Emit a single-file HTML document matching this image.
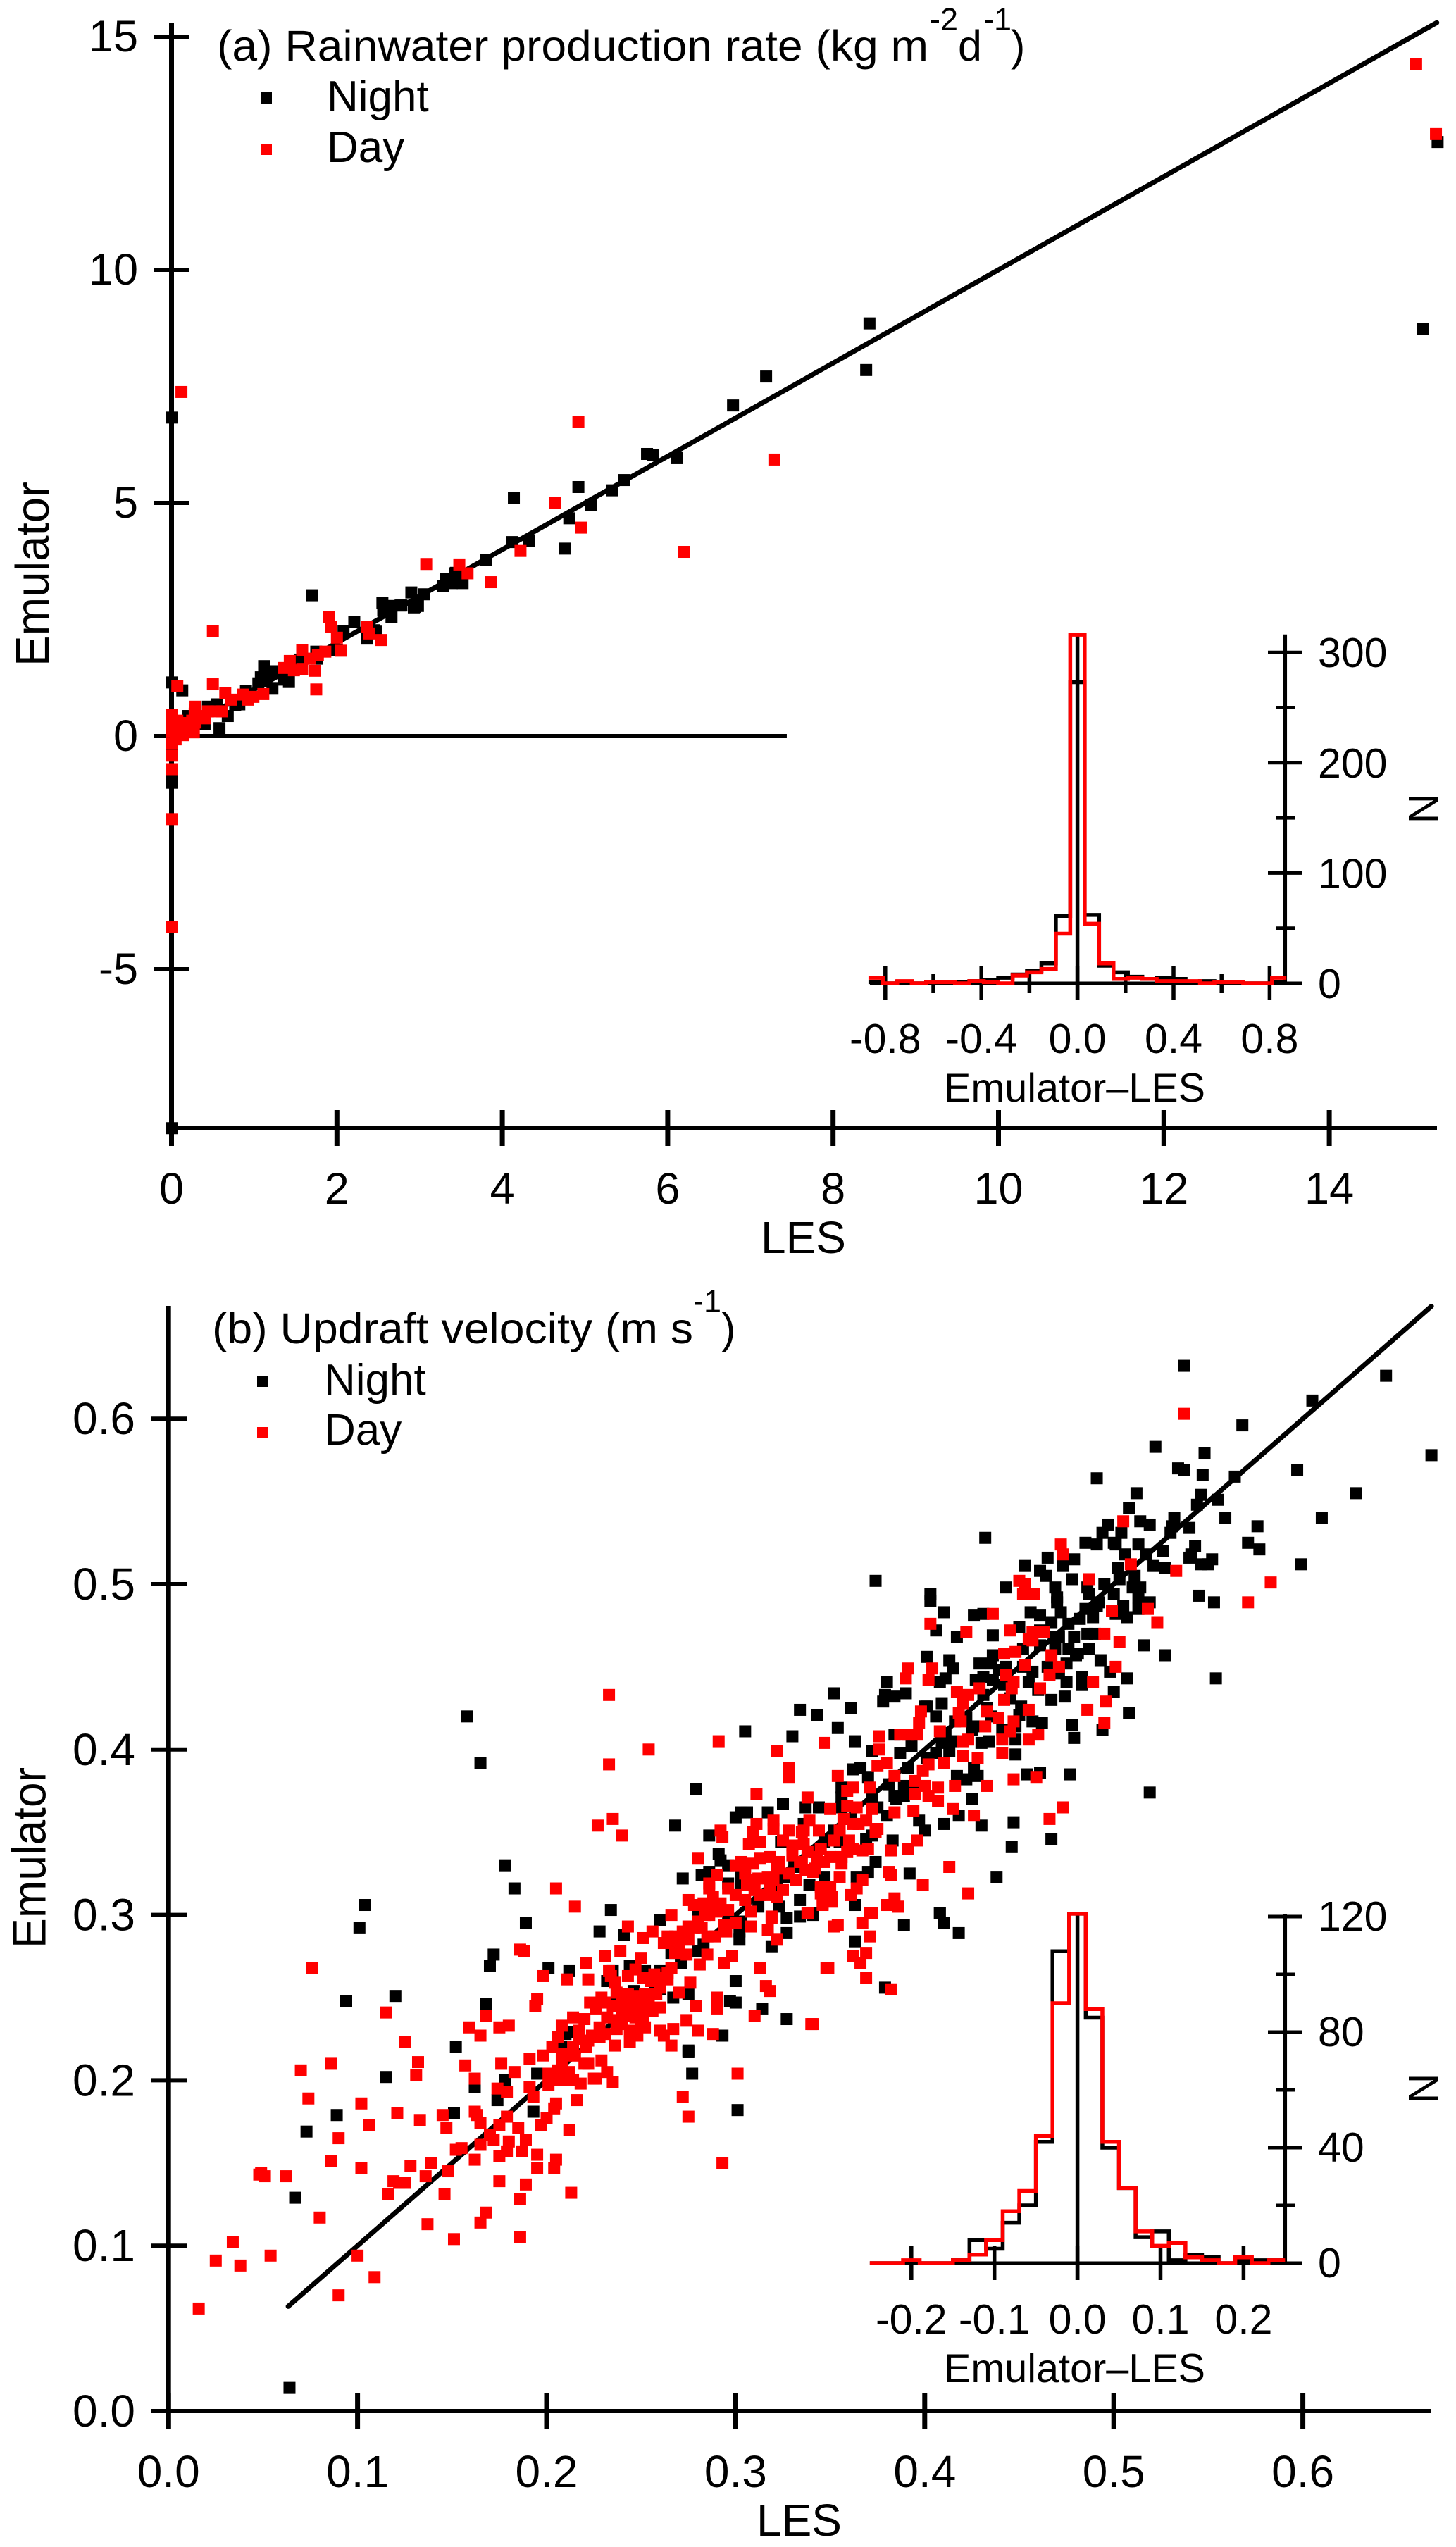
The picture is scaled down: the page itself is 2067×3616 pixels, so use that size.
<!DOCTYPE html>
<html lang="en">
<head>
<meta charset="utf-8">
<title>Emulator vs LES</title>
<style>
html,body{margin:0;padding:0;background:#fff;}
svg{display:block;font-family:"Liberation Sans",sans-serif;fill:#000;}
</style>
</head>
<body>
<svg id="fig" xmlns="http://www.w3.org/2000/svg" width="2067" height="3616" viewBox="0 0 2067 3616">
<rect x="0" y="0" width="2067" height="3616" fill="#fff"/>

<g font-size="61">
<text x="308" y="86" textLength="1010" lengthAdjust="spacingAndGlyphs">(a) Rainwater production rate (kg m</text>
<text x="1320" y="43" font-size="45">-2</text>
<text x="1360" y="86">d</text>
<text x="1396" y="43" font-size="45">-1</text>
<text x="1435" y="86">)</text>
</g>
<g font-size="62">
<rect x="370" y="131" width="16" height="16" fill="#000"/>
<text x="464" y="158">Night</text>
<rect x="370" y="204" width="16" height="16" fill="#f00"/>
<text x="464" y="230">Day</text>
</g>
<text font-size="67" transform="translate(69,946) rotate(-90)" textLength="262" lengthAdjust="spacingAndGlyphs">Emulator</text>
<text font-size="64" x="1080" y="1779">LES</text>
<text font-size="57.5" x="1340" y="1564" textLength="371" lengthAdjust="spacingAndGlyphs">Emulator–LES</text>
<text font-size="59" text-anchor="middle" transform="translate(2041,1148) rotate(-90)">N</text>

<g font-size="61">
<text x="301" y="1907" textLength="683" lengthAdjust="spacingAndGlyphs">(b) Updraft velocity (m s</text>
<text x="984" y="1863" font-size="45">-1</text>
<text x="1024" y="1907">)</text>
</g>
<g font-size="62">
<rect x="365" y="1953" width="16" height="16" fill="#000"/>
<text x="460" y="1980">Night</text>
<rect x="365" y="2026" width="16" height="16" fill="#f00"/>
<text x="460" y="2051">Day</text>
</g>
<text font-size="67" transform="translate(64.5,2766) rotate(-90)" textLength="257" lengthAdjust="spacingAndGlyphs">Emulator</text>
<text font-size="64" x="1074" y="3600">LES</text>
<text font-size="57.5" x="1340" y="3382" textLength="371" lengthAdjust="spacingAndGlyphs">Emulator–LES</text>
<text font-size="59" text-anchor="middle" transform="translate(2041,2965) rotate(-90)">N</text>
</svg>
<script>
/* ---------- Panel (a) data ---------- */
const aNightX=[0,1.70,4.14,4.92,5.07,4.81,4.76,5.33,5.47,5.75,
5.82,6.11,6.79,4.12,4.32,3.80,3.43,3.52,3.39,3.32,
3.28,3.05,2.90,2.93,2.98,2.77,2.64,2.55,2.56,2.66,
2.21,2.45,2.08,7.19,8.44,8.40,15.13,15.31,2.36,2.47,
2.63,2.78,2.94,3.44,3.49,1.12,1.22,1.08,1.22,1.05,
1.13,1.36,1.42,1.55,1.75,1.76,2.0,.90,.82,.77,
.68,.58,.40,.55,.44,.13,0,.20,0,0,
0,0,.1];
const aNightY=[6.83,3.02,5.1,5.34,4.96,4.67,4.02,5.27,5.49,6.05,
6.02,5.96,7.09,4.16,4.19,3.77,3.49,3.28,3.28,3.37,
3.21,3.04,3.08,2.76,2.79,2.80,2.79,2.86,2.69,2.56,
2.45,2.27,2.25,7.71,8.85,7.85,8.73,12.74,2.09,2.24,
2.77,2.80,2.77,3.50,3.30,1.50,1.39,1.26,1.03,1.13,
1.18,1.21,1.16,1.64,1.81,1.66,1.84,.96,.68,.66,
.43,.17,.25,.68,.63,.98,1.15,.43,-1.0,-.82,
-8.41,-.3,.1];
const aDayX=[.12,4.92,4.64,4.95,6.20,4.22,3.86,3.58,3.48,3.08,
1.90,1.93,2.36,2.39,.50,7.29,15.05,15.29,.50,.07,
2.0,2.05,2.53,1.58,1.43,1.36,1.48,1.58,1.67,1.77,
1.86,1.73,1.75,.65,.72,.865,.92,.99,1.11,.29,
.44,.54,.61,.35,.28,.25,.21,.14,.07,0,
0,.11,.27,.40,0,0,0,0,0,0,
.05,.05,.14,.23,.29,.29,0];
const aDayY=[7.38,6.74,5.0,4.47,3.95,3.97,3.30,3.49,3.68,3.69,
2.56,2.34,2.34,2.20,2.25,5.93,14.41,12.91,1.11,1.07,
2.11,1.83,2.06,1.84,1.61,1.46,1.41,1.44,1.66,1.74,
1.81,1.40,1.00,.92,.78,.89,.78,.84,.90,.63,
.53,.53,.53,.43,.48,.33,.23,.28,.33,.45,
.23,.08,.08,.38,-.71,-1.78,-4.09,-.42,-.16,.11,
.29,-.07,.02,.11,.55,.29,.37];
const aFitLine=[0,15.3];
const aZeroLineX=[0,7.44];
const aXTicks=[0,2,4,6,8,10,12,14];
const aXTickLabels=["0","2","4","6","8","10","12","14"];
const aYTicks=[-5,0,5,10,15];
const aYTickLabels=["-5","0","5","10","15"];
const aHistCenters=[-.84,-.78,-.72,-.66,-.6,-.54,-.48,-.42,-.36,-.3,-.24,-.18,-.12,-.06,0,.06,.12,.18,.24,.3,.36,.42,.48,.54,.6,.66,.72,.78,.84];
const aHistNight=[1,0,1,0,1,1,1,2,3,5,8,11,18,61,273,62,16,10,6,4,5,4,0,2,1,0,0,0,1];
const aHistDay=[5,0,2,0,1,1,0,2,1,0,7,10,13,45,316,54,18,4,5,4,2,2,2,0,1,1,0,0,5];
const aInsetXMajor=[-.8,-.4,0,.4,.8];
const aInsetXMajorLabels=["-0.8","-0.4","0.0","0.4","0.8"];
const aInsetXMinor=[-.6,-.2,.2,.6];
const aInsetYMajor=[0,100,200,300];
const aInsetYMajorLabels=["0","100","200","300"];
const aInsetYMinor=[50,150,250];

/* ---------- Panel (b) data ---------- */
const bNightX=[.537,.644,.605,.568,.522,.548,.668,.534,.537,.547,
.597,.491,.564,.512,.628,.546,.544,.555,.508,.559,
.532,.610,.576,.514,.519,.497,.531,.540,.530,.504,
.494,.432,.485,.491,.500,.501,.571,.577,.513,.506,
.526,.517,.543,.541,.540,.552,.546,.550,.599,.465,
.479,.473,.453,.461,.464,.527,.478,.503,.511,.443,
.469,.470,.486,.495,.487,.500,.514,.513,.519,.545,
.553,.374,.403,.403,.410,.426,.431,.456,.461,.472,
.485,.491,.505,.513,.507,.489,.467,.476,.450,.406,
.417,.436,.469,.479,.486,.469,.476,.480,.487,.475,
.516,.527,.436,.401,.413,.415,.429,.435,.439,.493,
.483,.483,.507,.554,.498,.500,.471,.457,.380,.352,
.408,.411,.427,.431,.436,.440,.390,.384,.379,.378,
.467,.474,.361,.334,.343,.508,.354,.305,.330,.363,
.478,.479,.494,.384,.372,.387,.393,.401,.409,.406,
.416,.400,.433,.451,.457,.462,.426,.430,.448,.448,
.434,.409,.413,.406,.448,.426,.428,.417,.422,.454,
.461,.477,.519,.425,.447,.410,.418,.430,.397,.400,
.446,.467,.392,.438,.408,.363,.334,.362,.366,.370,
.356,.389,.384,.389,.372,.356,.356,.337,.344,.325,
.303,.306,.300,.317,.372,.383,.380,.375,.324,.336,
.347,.355,.369,.374,.364,.370,.326,.303,.303,.339,
.347,
.158,.165,.279,.268,.286,.291,.292,.296,.178,.183,
.272,.282,.286,.296,.234,.189,.260,.280,.228,.241,
.172,.170,.201,.212,.244,.252,.260,.235,.232,.246,
.260,.267,.275,.168,.235,.293,.211,.152,.209,.275,
.280,.283,.266,.271,.296,.300,.297,.300,.314,.327,
.327,.319,.302,.327,.334,.341,.303,.312,.323,.302,
.104,.101,.120,.094,.115,.089,.073,.067,.064,.151,
.162,.178,.195,.174,.193,.275,.277,.301,.293,.210,
.363,.341,.408,.410,.418,.389,.363,.379,
.401,.411,.422,.431,.442,.452,.461,.471,.482,.492,
.415,.425,.435,.445,.455,.465,.475,.441,.450,.460,
.391,.381,.372,.361,.352,.342,.385,.395,.331,.322,
.502,.510,.521,.490,.501,.470,.461,.481,.452,.443];
const bNightY=[.632,.626,.611,.596,.583,.579,.578,.570,.569,.566,
.569,.564,.565,.555,.555,.554,.548,.551,.546,.540,
.540,.540,.535,.538,.536,.536,.535,.534,.531,.531,
.531,.528,.525,.524,.525,.524,.525,.521,.524,.518,
.520,.518,.523,.518,.516,.515,.512,.512,.512,.516,
.515,.511,.511,.508,.505,.510,.503,.503,.505,.498,
.498,.492,.498,.500,.494,.494,.498,.492,.489,.493,
.489,.502,.494,.490,.483,.481,.482,.483,.481,.483,
.485,.487,.487,.485,.480,.480,.477,.476,.474,.472,
.468,.469,.468,.468,.470,.461,.461,.457,.461,.452,
.463,.457,.457,.456,.454,.449,.452,.452,.448,.454,
.444,.439,.443,.443,.447,.435,.446,.447,.441,.434,
.441,.443,.442,.444,.442,.448,.434,.432,.433,.429,
.430,.432,.425,.424,.421,.422,.413,.411,.408,.405,
.415,.407,.412,.409,.399,.398,.402,.426,.428,.420,
.417,.426,.425,.426,.417,.416,.414,.404,.414,.406,
.405,.404,.399,.398,.397,.389,.384,.384,.382,.385,
.386,.385,.374,.370,.356,.355,.360,.354,.357,.351,
.341,.346,.325,.323,.301,.306,.309,.388,.389,.383,
.377,.378,.372,.372,.370,.371,.365,.365,.365,.367,
.362,.362,.359,.362,.348,.345,.360,.365,.344,.355,
.344,.344,.346,.332,.323,.326,.323,.323,.318,.318,
.323,
.420,.392,.376,.354,.348,.337,.333,.330,.330,.316,
.322,.324,.326,.319,.303,.295,.297,.299,.290,.288,
.276,.269,.268,.266,.269,.266,.266,.266,.260,.254,
.255,.250,.252,.246,.247,.227,.229,.220,.220,.218,
.278,.282,.277,.271,.297,.260,.248,.247,.243,.237,
.289,.281,.290,.298,.299,.300,.296,.305,.305,.285,
.306,.292,.251,.248,.202,.179,.169,.129,.014,.180,
.196,.200,.204,.188,.181,.217,.204,.182,.227,.228,
.306,.301,.301,.295,.289,.294,.284,.256,
.395,.410,.419,.433,.439,.450,.463,.468,.479,.489,
.405,.412,.420,.431,.441,.450,.441,.412,.421,.436,
.389,.379,.371,.358,.351,.338,.370,.380,.329,.318,
.510,.498,.511,.470,.482,.489,.472,.458,.461,.450];
const bDayX=[.537,.505,.472,.473,.509,.533,.487,.583,.450,.453,
.452,.458,.571,.499,.518,.523,.436,.403,.422,.445,
.457,.463,.455,.457,.495,.503,.442,.448,.467,.453,
.471,.501,.466,.391,.390,.404,.402,.443,.447,.446,
.489,.461,.429,.417,.423,.442,.420,.496,.486,.455,
.433,.398,.397,.418,.419,.439,.447,.445,.495,.432,
.408,.396,.391,.387,.376,.376,.322,.347,.328,.328,
.460,.455,.441,.423,.420,.441,.420,.428,.410,.402,
.380,.375,.354,.384,.399,.395,.400,.407,.416,.433,
.447,.459,.371,.362,.359,.395,.402,.407,.311,.338,
.473,.466,.415,.394,.384,.426,.350,.359,.364,.372,
.339,.357,.362,.369,.320,.320,.311,.328,.336,.344,
.355,.374,.309,.307,.313,.330,.336,.396,.391,.382,
.362,.367,.359,.343,.356,.413,.318,.313,.303,.309,
.323,.334,.337,.347,.356,.341,.355,.381,.382,.367,
.399,.423,.308,.317,.320,.332,.318,.313,.325,.345,
.350,.345,.351,.364,.361,.305,.322,.346,.380,.384,
.386,.372,.338,.308,.319,
.346,.351,.381,.386,.371,.352,.354,.367,.371,.362,
.366,.369,.348,.369,.382,.341,
.233,.291,.254,.233,.235,.227,.240,.292,.293,.280,
.290,.286,.286,.296,.205,.215,.275,.278,.283,.288,
.288,.292,.296,.284,.266,.243,.256,.251,.275,.282,
.285,.289,.294,.295,.264,.268,.275,.262,.268,.268,
.274,.285,.281,.294,.239,.231,.250,.221,.186,.188,
.198,.211,.222,.233,.234,.236,.247,.243,.251,.257,
.264,.266,.255,.260,.264,.260,.276,.270,.237,.241,
.246,.252,.254,.223,.229,.231,.240,.244,.250,.260,
.256,.290,.290,.279,.195,.194,.240,.241,.248,.251,
.214,.220,.168,.274,.240,.250,.252,.208,.217,.159,
.175,.180,.165,.280,.288,.267,.260,.262,.237,.244,
.248,.231,.224,.228,.206,.217,.244,.236,.266,.203,
.214,.221,
.313,.316,.318,.310,.340,.349,.298,.308,.317,.322,
.319,.338,
.076,.115,.125,.070,.086,.132,.131,.074,.102,.121,
.133,.106,.090,.086,.102,.128,.139,.049,.048,.051,
.062,.119,.122,.125,.136,.116,.080,.137,.034,.025,
.038,.054,.100,.109,.090,.016,
.176,.157,.183,.162,.191,.198,.174,.179,.191,.193,
.201,.201,.206,.208,.214,.209,.214,.225,.235,.232,
.216,.205,.204,.145,.162,.163,.165,.179,.175,.200,
.197,.212,.147,.185,.170,.172,.180,.189,.179,.165,
.187,.155,.152,.175,.195,.162,.205,.204,.195,.148,
.189,.175,.213,.146,.186,.168,.165,.151,.186,.272,
.275,.301,.293,.226,.222,.229,
.246,.242,.250,.238,.254,.247,.243,.235,.258,.262,
.270,.278,.272,.280,.286,.290,.300,.306,.312,.318,
.322,.318,.328,.335,.342,.350,.345,.338,.330,.352,
.222,.228,.215,.208,.220,.232,.226,.205,.212,.218,
.300,.305,.310,.300,.325,.335,.360,.365,.370,.375];
const bDayY=[.603,.538,.524,.518,.512,.508,.503,.501,.502,.500,
.494,.494,.489,.484,.485,.477,.482,.476,.471,.472,
.471,.471,.467,.466,.470,.465,.458,.459,.457,.451,
.450,.450,.445,.449,.443,.449,.442,.445,.441,.437,
.441,.437,.437,.435,.433,.430,.428,.429,.424,.424,
.423,.423,.416,.422,.417,.419,.417,.411,.416,.414,
.411,.409,.409,.409,.408,.400,.399,.404,.389,.383,
.409,.406,.406,.406,.405,.398,.396,.395,.392,.391,
.392,.390,.384,.384,.387,.381,.378,.377,.378,.378,
.382,.383,.377,.377,.375,.373,.372,.369,.373,.371,
.365,.358,.364,.363,.362,.360,.364,.366,.365,.364,
.357,.358,.355,.357,.357,.352,.355,.351,.351,.351,
.351,.350,.350,.343,.344,.342,.343,.345,.340,.339,
.340,.339,.338,.335,.335,.329,.335,.334,.332,.331,
.332,.332,.327,.332,.331,.326,.323,.326,.324,.321,
.318,.313,.321,.323,.321,.321,.316,.312,.315,.317,
.317,.313,.311,.316,.312,.309,.311,.307,.306,.310,
.305,.301,.301,.302,.299,
.306,.308,.306,.305,.301,.293,.294,.295,.287,.275,
.271,.277,.268,.262,.255,.234,
.433,.405,.400,.391,.358,.354,.348,.351,.347,.334,
.324,.319,.316,.316,.316,.305,.309,.306,.307,.311,
.306,.307,.303,.300,.300,.293,.290,.286,.293,.292,
.287,.287,.294,.290,.287,.287,.285,.283,.281,.277,
.276,.276,.270,.271,.278,.275,.274,.271,.279,.278,
.263,.261,.261,.266,.263,.259,.267,.263,.262,.264,
.265,.268,.260,.259,.261,.256,.259,.253,.253,.252,
.251,.252,.250,.247,.250,.247,.246,.246,.245,.244,
.242,.250,.243,.245,.249,.245,.243,.239,.241,.238,
.238,.237,.239,.236,.234,.234,.232,.233,.230,.232,
.232,.233,.227,.230,.228,.231,.230,.227,.231,.230,
.227,.228,.227,.226,.226,.225,.223,.221,.221,.220,
.220,.220,
.268,.257,.254,.239,.234,.268,.275,.293,.291,.285,
.298,.301,
.268,.241,.223,.206,.210,.211,.203,.189,.186,.180,
.176,.173,.165,.151,.147,.148,.150,.144,.143,.142,
.142,.139,.138,.138,.142,.131,.117,.113,.102,.091,
.088,.094,.094,.081,.070,.062,
.210,.209,.205,.201,.213,.215,.195,.193,.196,.190,
.197,.204,.206,.216,.215,.200,.200,.201,.199,.205,
.188,.186,.183,.179,.181,.179,.174,.178,.173,.177,
.173,.170,.171,.171,.167,.164,.163,.164,.157,.161,
.157,.159,.158,.154,.155,.152,.152,.147,.147,.145,
.137,.139,.132,.131,.128,.120,.114,.104,.105,.190,
.178,.204,.150,.201,.210,.212,
.244,.240,.248,.236,.246,.238,.252,.245,.252,.262,
.283,.292,.290,.296,.300,.302,.312,.318,.322,.318,
.328,.312,.325,.332,.328,.335,.340,.338,.336,.345,
.224,.232,.215,.212,.210,.238,.243,.200,.205,.198,
.330,.325,.315,.295,.345,.350,.345,.355,.340,.352];
const bFitLine=[.0633,.668];
const bXTicks=[0,.1,.2,.3,.4,.5,.6];
const bXTickLabels=["0.0","0.1","0.2","0.3","0.4","0.5","0.6"];
const bYTicks=[0,.1,.2,.3,.4,.5,.6];
const bYTickLabels=["0.0","0.1","0.2","0.3","0.4","0.5","0.6"];
const bHistCenters=[-.24,-.22,-.2,-.18,-.16,-.14,-.12,-.1,-.08,-.06,-.04,-.02,0,.02,.04,.06,.08,.1,.12,.14,.16,.18,.2,.22,.24];
const bHistNight=[0,0,0,0,0,1,8,5,14,20,42,108,121,85,40,26,9,11,1,3,2,0,1,1,1];
const bHistDay=[0,0,1,0,0,1,3,8,18,25,44,90,121,88,42,26,11,6,7,2,1,0,2,0,1];
const bInsetXMajor=[-.2,-.1,0,.1,.2];
const bInsetXMajorLabels=["-0.2","-0.1","0.0","0.1","0.2"];
const bInsetYMajor=[0,40,80,120];
const bInsetYMajorLabels=["0","40","80","120"];
const bInsetYMinor=[20,60,100];

/* ---------- Axis functions ---------- */
const axA={x:v=>243.5+117.4*v,y:v=>1045-66.2*v};
const axB={x:v=>239.2+2684*v,y:v=>3423-2348*v};
const insA={x:v=>1529.6+341*v,y:v=>1396-1.566*v};
const insB={x:v=>1529.6+1179*v,y:v=>3213-4.1*v};

const NS='http://www.w3.org/2000/svg';
const svg=document.getElementById('fig');

function makeGroup(name){
  const el=document.createElementNS(NS,'g');
  
  
  svg.appendChild(el);
  return el;
}
function drawLine(parent,x1,y1,x2,y2,w,name,cap,color){
  const el=document.createElementNS(NS,'line');
  el.setAttribute('x1',x1);el.setAttribute('y1',y1);el.setAttribute('x2',x2);el.setAttribute('y2',y2);
  el.setAttribute('stroke',color||'#000');el.setAttribute('stroke-width',w);
  if(cap)el.setAttribute('stroke-linecap',cap);
  
  
  parent.appendChild(el);
  return el;
}
function drawText(parent,x,y,str,size,anchor,name){
  const el=document.createElementNS(NS,'text');
  el.setAttribute('x',x);el.setAttribute('y',y);
  el.setAttribute('font-size',size);el.setAttribute('text-anchor',anchor);
  el.textContent=str;
  
  
  parent.appendChild(el);
  return el;
}
function drawPoints(parent,ax,xs,ys,color,name){
  const n=Math.min(xs.length,ys.length);
  for(let i=0;i<n;i++){
    const el=document.createElementNS(NS,'rect');
    el.setAttribute('x',ax.x(xs[i])-8.5);
    el.setAttribute('y',ax.y(ys[i])-8.5);
    el.setAttribute('width',17);el.setAttribute('height',17);
    el.setAttribute('fill',color);
    
    
    parent.appendChild(el);
  }
}
function drawHist(parent,ax,centers,values,binWidth,color,name){
  let d='';
  for(let i=0;i<centers.length;i++){
    const left=ax.x(centers[i]-binWidth/2),right=ax.x(centers[i]+binWidth/2),y=ax.y(values[i]);
    d+=(i===0?'M':'L')+left+' '+y+'L'+right+' '+y;
  }
  const el=document.createElementNS(NS,'path');
  el.setAttribute('d',d);el.setAttribute('fill','none');
  el.setAttribute('stroke',color);el.setAttribute('stroke-width',5.5);
  
  
  parent.appendChild(el);
}

/* ---------- Panel (a) ---------- */
const gAAxes=makeGroup('panel-a-axes');
drawLine(gAAxes,axA.x(0),33,axA.x(0),1627,7,'panel-a-y-axis');
drawLine(gAAxes,axA.x(0),1601,2040,1601,6,'panel-a-x-axis');
aXTicks.forEach((v,i)=>{
  drawLine(gAAxes,axA.x(v),1576,axA.x(v),1627,7,'panel-a-x-tick');
  drawText(gAAxes,axA.x(v),1709,aXTickLabels[i],63,'middle','panel-a-x-tick-label');
});
aYTicks.forEach((v,i)=>{
  drawLine(gAAxes,218,axA.y(v),269,axA.y(v),6,'panel-a-y-tick');
  drawText(gAAxes,196,axA.y(v)+21,aYTickLabels[i],63,'end','panel-a-y-tick-label');
});
const gAInset=makeGroup('panel-a-inset');
drawLine(gAInset,1235,insA.y(0),1849,insA.y(0),5,'panel-a-inset-x-axis');
drawLine(gAInset,1824.3,900.7,1824.3,insA.y(0),5.5,'panel-a-inset-y-axis');
drawLine(gAInset,insA.x(0),900,insA.x(0),1420,5.5,'panel-a-inset-zero-line');
aInsetXMajor.forEach((v,i)=>{
  drawLine(gAInset,insA.x(v),1372,insA.x(v),1420,5.5,'panel-a-inset-x-tick');
  drawText(gAInset,insA.x(v),1495,aInsetXMajorLabels[i],59,'middle','panel-a-inset-x-tick-label');
});
aInsetXMinor.forEach(v=>{
  drawLine(gAInset,insA.x(v),1383,insA.x(v),1410,5.5,'panel-a-inset-x-minor-tick');
});
aInsetYMajor.forEach((v,i)=>{
  drawLine(gAInset,1800,insA.y(v),1849,insA.y(v),5,'panel-a-inset-y-tick');
  drawText(gAInset,1871,insA.y(v)+21,aInsetYMajorLabels[i],59,'start','panel-a-inset-y-tick-label');
});
aInsetYMinor.forEach(v=>{
  drawLine(gAInset,1811,insA.y(v),1838,insA.y(v),5,'panel-a-inset-y-minor-tick');
});
drawHist(gAInset,insA,aHistCenters,aHistNight,.06,'#000','panel-a-hist-night');
drawHist(gAInset,insA,aHistCenters,aHistDay,.06,'#f00','panel-a-hist-day');

const gALines=makeGroup('panel-a-reference-lines');
drawLine(gALines,218,axA.y(0),axA.x(aZeroLineX[1]),axA.y(0),6,'panel-a-zero-line');
drawLine(gALines,axA.x(aFitLine[0]),axA.y(aFitLine[0]),axA.x(aFitLine[1]),axA.y(aFitLine[1]),7,'panel-a-one-to-one-line','round');
const gAPts=makeGroup('panel-a-points');
drawPoints(gAPts,axA,aNightX,aNightY,'#000','panel-a-night-point');
drawPoints(gAPts,axA,aDayX,aDayY,'#f00','panel-a-day-point');

/* ---------- Panel (b) ---------- */
const gBAxes=makeGroup('panel-b-axes');
drawLine(gBAxes,axB.x(0),1854,axB.x(0),3449,7,'panel-b-y-axis');
drawLine(gBAxes,214,axB.y(0),2031,axB.y(0),6,'panel-b-x-axis');
bXTicks.forEach((v,i)=>{
  drawLine(gBAxes,axB.x(v),3398,axB.x(v),3449,7,'panel-b-x-tick');
  drawText(gBAxes,axB.x(v),3531,bXTickLabels[i],64,'middle','panel-b-x-tick-label');
});
bYTicks.forEach((v,i)=>{
  drawLine(gBAxes,214,axB.y(v),265,axB.y(v),6,'panel-b-y-tick');
  drawText(gBAxes,192,axB.y(v)+22,bYTickLabels[i],64,'end','panel-b-y-tick-label');
});
const gBLines=makeGroup('panel-b-reference-lines');
drawLine(gBLines,axB.x(bFitLine[0]),axB.y(bFitLine[0]),axB.x(bFitLine[1]),axB.y(bFitLine[1]),7,'panel-b-one-to-one-line','round');
const gBPts=makeGroup('panel-b-points');
drawPoints(gBPts,axB,bNightX,bNightY,'#000','panel-b-night-point');
drawPoints(gBPts,axB,bDayX,bDayY,'#f00','panel-b-day-point');

const gBInset=makeGroup('panel-b-inset');
drawLine(gBInset,1235,insB.y(0),1849,insB.y(0),5,'panel-b-inset-x-axis');
drawLine(gBInset,1824.3,2717.5,1824.3,insB.y(0),5.5,'panel-b-inset-y-axis');
drawLine(gBInset,insB.x(0),2717.5,insB.x(0),3237,5.5,'panel-b-inset-zero-line');
bInsetXMajor.forEach((v,i)=>{
  drawLine(gBInset,insB.x(v),3189,insB.x(v),3237,5.5,'panel-b-inset-x-tick');
  drawText(gBInset,insB.x(v),3313,bInsetXMajorLabels[i],59,'middle','panel-b-inset-x-tick-label');
});
bInsetYMajor.forEach((v,i)=>{
  drawLine(gBInset,1800,insB.y(v),1849,insB.y(v),5,'panel-b-inset-y-tick');
  drawText(gBInset,1871,insB.y(v)+20,bInsetYMajorLabels[i],59,'start','panel-b-inset-y-tick-label');
});
bInsetYMinor.forEach(v=>{
  drawLine(gBInset,1811,insB.y(v),1838,insB.y(v),5,'panel-b-inset-y-minor-tick');
});
drawHist(gBInset,insB,bHistCenters,bHistNight,.02,'#000','panel-b-hist-night');
drawHist(gBInset,insB,bHistCenters,bHistDay,.02,'#f00','panel-b-hist-day');
</script>
</body>
</html>
